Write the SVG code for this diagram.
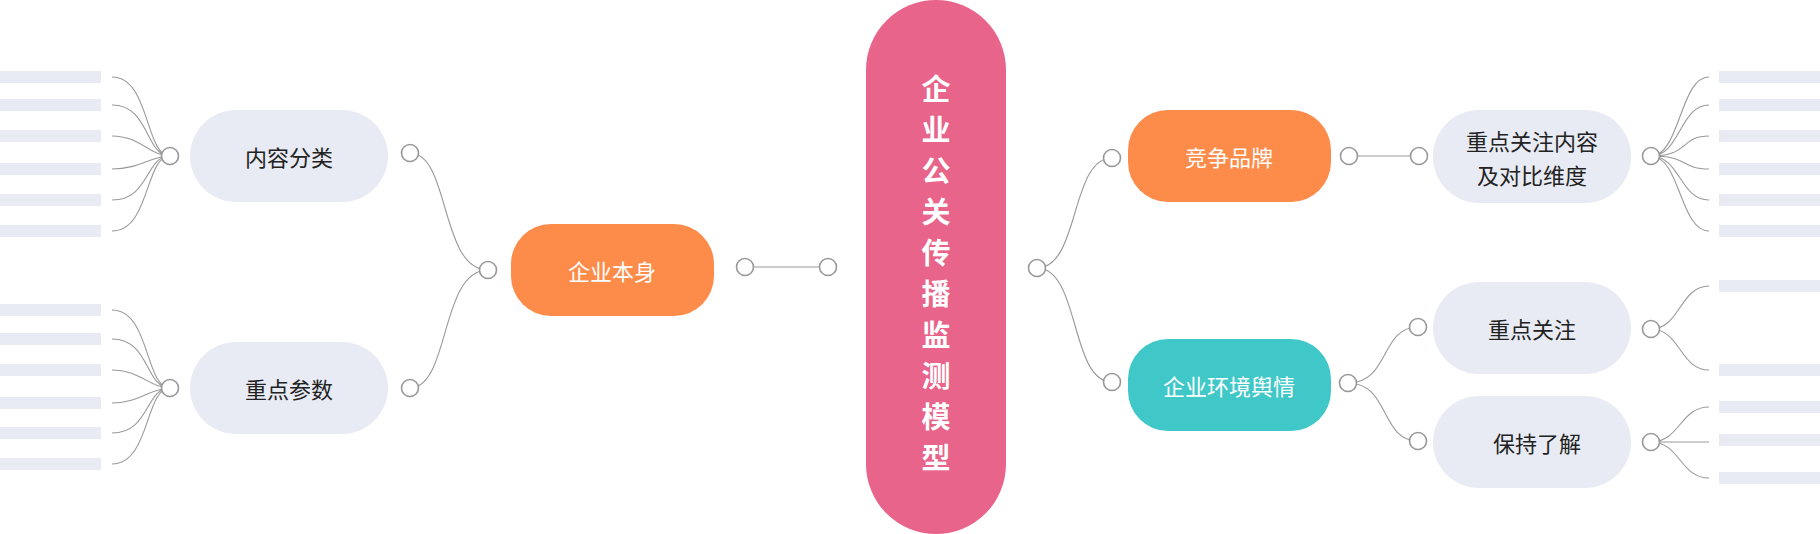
<svg xmlns="http://www.w3.org/2000/svg" width="1820" height="534" viewBox="0 0 1820 534">
<style>
.bar{fill:#E8EBF3}
.leaf{fill:#E8EBF3}
.c{fill:#fff;stroke:#999;stroke-width:1.6}
.l{fill:none;stroke:#999;stroke-width:1.1}
.t{font-family:"Noto Sans CJK SC",sans-serif;font-size:22px;text-anchor:middle;dominant-baseline:central}
.big{font-size:29px;font-weight:bold}
.dk{fill:#222}
.wh{fill:#fff}
</style>
<g id="bars">
<rect class="bar" x="0" y="71" width="101" height="12"/><rect class="bar" x="0" y="99" width="101" height="12"/><rect class="bar" x="0" y="130" width="101" height="12"/><rect class="bar" x="0" y="163" width="101" height="12"/><rect class="bar" x="0" y="194" width="101" height="12"/><rect class="bar" x="0" y="225" width="101" height="12"/>
<rect class="bar" x="0" y="304" width="101" height="12"/><rect class="bar" x="0" y="333" width="101" height="12"/><rect class="bar" x="0" y="364" width="101" height="12"/><rect class="bar" x="0" y="397" width="101" height="12"/><rect class="bar" x="0" y="427" width="101" height="12"/><rect class="bar" x="0" y="458" width="101" height="12"/>
<rect class="bar" x="1719" y="71" width="101" height="12"/><rect class="bar" x="1719" y="99" width="101" height="12"/><rect class="bar" x="1719" y="130" width="101" height="12"/><rect class="bar" x="1719" y="163" width="101" height="12"/><rect class="bar" x="1719" y="194" width="101" height="12"/><rect class="bar" x="1719" y="225" width="101" height="12"/>
<rect class="bar" x="1719" y="280" width="101" height="12"/><rect class="bar" x="1719" y="364" width="101" height="12"/>
<rect class="bar" x="1719" y="401" width="101" height="12"/><rect class="bar" x="1719" y="434" width="101" height="12"/><rect class="bar" x="1719" y="472" width="101" height="12"/>
</g>
<g id="connectors">
<path class="l" d="M112 77C150 77 145 156 170 156M112 105C150 105 145 156 170 156M112 136C140 136 150 156 170 156M112 169C140 169 150 156 170 156M112 200C150 200 145 156 170 156M112 231C150 231 145 156 170 156"/>
<path class="l" d="M112 310C150 310 145 388 170 388M112 339C150 339 145 388 170 388M112 370C140 370 150 388 170 388M112 403C140 403 150 388 170 388M112 433C150 433 145 388 170 388M112 464C150 464 145 388 170 388"/>
<path class="l" d="M410 153C450 153 440 270 488 270M410 388C450 388 440 270 488 270"/>
<path class="l" d="M745 267L828 267"/>
<path class="l" d="M1037 268C1080 268 1070 158 1112 158M1037 268C1080 268 1070 382 1112 382"/>
<path class="l" d="M1349 156L1419 156"/>
<path class="l" d="M1348 383C1390 383 1380 327 1418 327M1348 383C1390 383 1380 441 1418 441"/>
<path class="l" d="M1651 156C1680 156 1680 77 1709 77M1651 156C1680 156 1680 105 1709 105M1651 156C1690 156 1680 136 1709 136M1651 156C1690 156 1680 169 1709 169M1651 156C1680 156 1680 200 1709 200M1651 156C1680 156 1680 231 1709 231"/>
<path class="l" d="M1651 329C1680 329 1680 286 1709 286M1651 329C1680 329 1680 370 1709 370"/>
<path class="l" d="M1651 442C1680 442 1680 407 1709 407M1651 442L1709 442M1651 442C1680 442 1680 478 1709 478"/>
<g>
<circle class="c" cx="170" cy="156" r="8.5"/><circle class="c" cx="170" cy="388" r="8.5"/>
<circle class="c" cx="410" cy="153" r="8.5"/><circle class="c" cx="410" cy="388" r="8.5"/>
<circle class="c" cx="488" cy="270" r="8.5"/><circle class="c" cx="745" cy="267" r="8.5"/><circle class="c" cx="828" cy="267" r="8.5"/>
<circle class="c" cx="1037" cy="268" r="8.5"/><circle class="c" cx="1112" cy="158" r="8.5"/><circle class="c" cx="1112" cy="382" r="8.5"/>
<circle class="c" cx="1349" cy="156" r="8.5"/><circle class="c" cx="1419" cy="156" r="8.5"/>
<circle class="c" cx="1348" cy="383" r="8.5"/><circle class="c" cx="1418" cy="327" r="8.5"/><circle class="c" cx="1418" cy="441" r="8.5"/>
<circle class="c" cx="1651" cy="156" r="8.5"/><circle class="c" cx="1651" cy="329" r="8.5"/><circle class="c" cx="1651" cy="442" r="8.5"/>
</g>
</g>
<g id="center"><rect x="866" y="0" width="140" height="534" rx="70" fill="#E8648A"/>
<text class="t wh big" x="936"><tspan x="936" y="87">企</tspan><tspan x="936" y="128">业</tspan><tspan x="936" y="169">公</tspan><tspan x="936" y="210">关</tspan><tspan x="936" y="251">传</tspan><tspan x="936" y="292">播</tspan><tspan x="936" y="333">监</tspan><tspan x="936" y="374">测</tspan><tspan x="936" y="415">模</tspan><tspan x="936" y="456">型</tspan></text></g>
<g id="n1"><rect x="511" y="224" width="203" height="92" rx="40" fill="#FD8B4A"/><text class="t wh" x="612" y="270">企业本身</text></g>
<g id="n2"><rect class="leaf" x="190" y="110" width="198" height="92" rx="46"/><text class="t dk" x="289" y="156">内容分类</text></g>
<g id="n3"><rect class="leaf" x="190" y="342" width="198" height="92" rx="46"/><text class="t dk" x="289" y="388">重点参数</text></g>
<g id="n4"><rect x="1128" y="110" width="203" height="92" rx="40" fill="#FD8B4A"/><text class="t wh" x="1229" y="156">竞争品牌</text></g>
<g id="n5"><rect x="1128" y="339" width="203" height="92" rx="40" fill="#40C8C8"/><text class="t wh" x="1229" y="385">企业环境舆情</text></g>
<g id="n6"><rect class="leaf" x="1433" y="110" width="198" height="93" rx="46"/><text class="t dk" x="1532"><tspan x="1532" y="140">重点关注内容</tspan><tspan x="1532" y="174">及对比维度</tspan></text></g>
<g id="n7"><rect class="leaf" x="1433" y="282" width="198" height="92" rx="46"/><text class="t dk" x="1532" y="328">重点关注</text></g>
<g id="n8"><rect class="leaf" x="1433" y="396" width="198" height="92" rx="46"/><text class="t dk" x="1537" y="442">保持了解</text></g>
</svg>
